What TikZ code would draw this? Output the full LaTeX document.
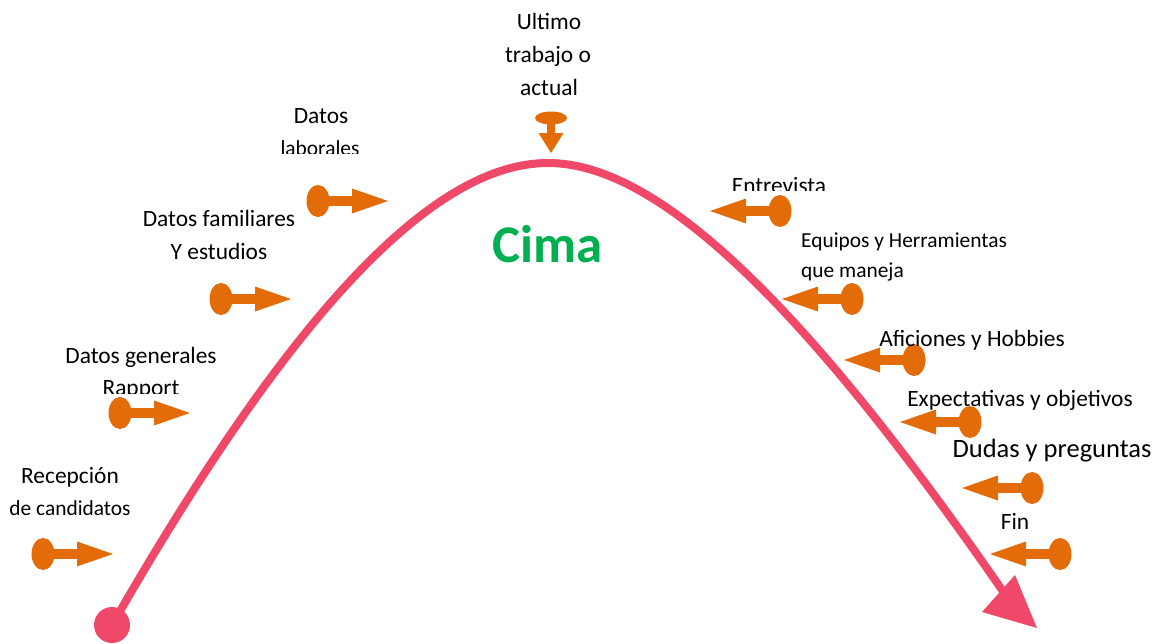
\documentclass[tikz,border=0pt]{standalone}
\usepackage{fontspec}
\setmainfont{Carlito}
\definecolor{curvec}{HTML}{EF4868}
\definecolor{pinc}{HTML}{E36C09}
\definecolor{cimac}{HTML}{00B050}
\begin{document}
\begin{tikzpicture}[x=1pt,y=-1pt,
  lbl/.style={anchor=base,inner sep=0pt,font=\fontsize{23.4}{33}\selectfont},
  sml/.style={anchor=base,inner sep=0pt,font=\fontsize{21.4}{30}\selectfont},
  big/.style={anchor=base,inner sep=0pt,font=\fontsize{26.5}{33}\selectfont},
  pics/pin/.style={code={
    \fill[pinc] (0,0) ellipse [x radius=11.5,y radius=16];
    \fill[pinc] (0,-5) rectangle (36,5);
    \fill[pinc] (34,-12.5) -- (70,0) -- (34,12.5) -- cycle;}}]
\useasboundingbox (0,0) rectangle (1165,643);

% main curve
\node[circle,fill=curvec,minimum size=36,inner sep=0pt] (start) at (112,625) {};
\coordinate (peak) at (548,163);
\coordinate (tip) at (1037,628);
\draw[curvec,line width=8,line join=round]
  plot[domain=112:548,samples=80,smooth] (\x,{163+37.69*((548-\x)/100)^2/(1+0.1263*((548-\x)/100))})
  -- plot[domain=548:1006,samples=80,smooth] (\x,{163+38.8*((\x-548)/100)^2/(1+0.1924*((\x-548)/100))})
  coordinate (curveend);
\fill[curvec] (982,612) -- (tip) -- (1015,575) -- cycle;

% pins pointing right
\pic at (43,554) {pin};
\pic at (120,413) {pin};
\pic at (221,299) {pin};
\pic at (318,201) {pin};
% pins pointing left
\pic[rotate=180] at (780,211) {pin};
\pic[rotate=180] at (852,299) {pin};
\pic[rotate=180] at (914,360) {pin};
\pic[rotate=180] at (970,422) {pin};
\pic[rotate=180] at (1032,488) {pin};
\pic[rotate=180] at (1060,554) {pin};
% pin pointing down at the top
\fill[pinc] (551,118) ellipse [x radius=16,y radius=6.5];
\fill[pinc] (547,118) rectangle (555,135);
\fill[pinc] (538.5,133) -- (563.5,133) -- (551,153) -- cycle;

% labels
\node[lbl] (rec1) at (70,483) {Recepción};
\node[sml] (rec2) at (70,515) {de candidatos};
\node[lbl] (gen1) at (141,363) {Datos generales};
\begin{scope}
  \clip (90,360) rectangle (200,393);
  \node[lbl] (gen2) at (141,395) {Rapport};
\end{scope}
\node[lbl] (fam1) at (219,226) {Datos familiares};
\node[lbl] (fam2) at (219,259) {Y estudios};
\node[lbl] (lab1) at (321,123) {Datos};
\begin{scope}
  \clip (270,125) rectangle (370,153);
  \node[sml] (lab2) at (320,155) {laborales};
\end{scope}
\node[lbl] (ult1) at (549,29) {Ultimo};
\node[lbl] (ult2) at (548,62) {trabajo o};
\node[lbl] (ult3) at (549,95) {actual};
\begin{scope}
  \clip (720,160) rectangle (840,190);
  \node[lbl] (ent) at (779,193) {Entrevista};
\end{scope}
\node[sml,anchor=base west] (equ1) at (801,247) {Equipos y Herramientas};
\node[sml,anchor=base west] (equ2) at (801,277) {que maneja};
\node[lbl] (afi) at (972,346) {Aficiones y Hobbies};
\node[lbl] (exp) at (1020,406) {Expectativas y objetivos};
\node[big] (dud) at (1052,457) {Dudas y preguntas};
\node[lbl] (fin) at (1015,529) {Fin};
\node[anchor=base,inner sep=0pt,text=cimac,font=\fontsize{53}{53}\selectfont\bfseries] (cima) at (548,262) {Cima};
\end{tikzpicture}
\end{document}
